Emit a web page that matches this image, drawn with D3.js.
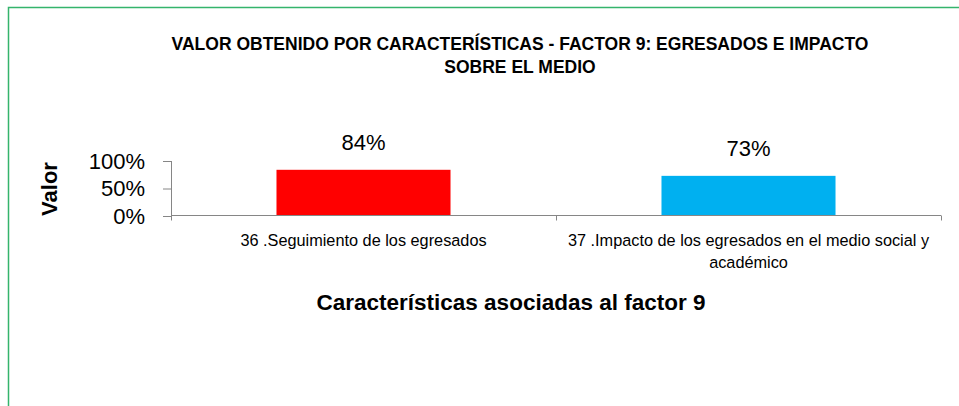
<!DOCTYPE html>
<html>
<head>
<meta charset="utf-8">
<script src="https://cdn.jsdelivr.net/npm/d3@7/dist/d3.min.js"></script>
<style>
  html, body { margin: 0; padding: 0; background: #fff; }
  svg { display: block; font-family: "Liberation Sans", Arial, sans-serif; }
</style>
</head>
<body>
<svg id="chart" width="959" height="406"></svg>
<script>
// Characteristic labels (each entry is a list of wrapped lines)
const categories = [
  ["36 .Seguimiento de los egresados"],
  ["37 .Impacto de los egresados en el medio social y", "académico"]
];
const values = [0.84, 0.73];
const barColors = ["#ff0000", "#00b0f0"];
const yTicks = [0, 0.5, 1];
const titleLines = [
  "VALOR OBTENIDO POR CARACTERÍSTICAS - FACTOR 9: EGRESADOS E IMPACTO",
  "SOBRE EL MEDIO"
];
const xTitle = "Características asociadas al factor 9";
const yTitle = "Valor";

const svg = d3.select("#chart");
const W = 959, H = 406;

// outer frame (open at the right and bottom edges)
svg.append("rect")
  .attr("x", 8.5).attr("y", 7.5)
  .attr("width", W + 10).attr("height", H + 10)
  .attr("fill", "#fff")
  .attr("stroke", "#34b46c")
  .attr("stroke-width", 1.5);

const plot = { left: 171, right: 941, top: 161, bottom: 216 };

const x = d3.scaleBand()
  .domain(categories.map((d, i) => i))
  .range([plot.left, plot.right])
  .paddingInner(0)
  .paddingOuter(0);

const y = d3.scaleLinear()
  .domain([0, 1])
  .range([plot.bottom, plot.top]);

const barW = x.bandwidth() * 0.452;

// title
svg.append("g").selectAll("text")
  .data(titleLines)
  .join("text")
  .attr("x", 520)
  .attr("y", (d, i) => 50 + i * 23)
  .attr("text-anchor", "middle")
  .attr("font-size", 17.5)
  .attr("font-weight", "bold")
  .attr("fill", "#000")
  .text(d => d);

// bars
svg.append("g").selectAll("rect")
  .data(values)
  .join("rect")
  .attr("x", (d, i) => x(i) + (x.bandwidth() - barW) / 2)
  .attr("y", d => y(d))
  .attr("width", barW)
  .attr("height", d => y(0) - y(d))
  .attr("fill", (d, i) => barColors[i]);

// value labels
svg.append("g").selectAll("text")
  .data(values)
  .join("text")
  .attr("x", (d, i) => x(i) + x.bandwidth() / 2)
  .attr("y", d => y(d) - 20)
  .attr("text-anchor", "middle")
  .attr("font-size", 22)
  .attr("fill", "#000")
  .text(d => d3.format(".0%")(d));

// y axis
const yAxis = d3.axisLeft(y)
  .tickValues(yTicks)
  .tickFormat(d3.format(".0%"))
  .tickSize(8)
  .tickPadding(18);
const gy = svg.append("g")
  .attr("transform", `translate(${plot.left},0)`)
  .call(yAxis);
gy.select(".domain").attr("stroke", "#868686").attr("d", `M0.5,${plot.top}V${plot.bottom}`);
gy.selectAll(".tick line").attr("stroke", "#868686");
gy.selectAll(".tick text")
  .attr("font-size", 22)
  .attr("font-family", "Liberation Sans, Arial, sans-serif")
  .attr("fill", "#000");

// x axis
const xAxis = d3.axisBottom(
  d3.scaleLinear().domain([0, categories.length]).range([plot.left, plot.right])
).tickValues(d3.range(categories.length + 1)).tickSize(5).tickFormat("");
const gx = svg.append("g")
  .attr("transform", `translate(0,${plot.bottom - 0.5})`)
  .call(xAxis);
gx.select(".domain").attr("stroke", "#868686").attr("d", `M${plot.left},0H${plot.right}`);
gx.selectAll(".tick line").attr("stroke", "#868686");

// category labels
const catG = svg.append("g");
categories.forEach((lines, i) => {
  catG.append("text")
    .attr("x", x(i) + x.bandwidth() / 2)
    .attr("y", 246)
    .attr("text-anchor", "middle")
    .attr("font-size", 16.3)
    .attr("fill", "#000")
    .selectAll("tspan")
    .data(lines)
    .join("tspan")
    .attr("x", x(i) + x.bandwidth() / 2)
    .attr("dy", (d, j) => j === 0 ? 0 : 22)
    .text(d => d);
});

// axis titles
svg.append("text")
  .attr("x", 511)
  .attr("y", 310)
  .attr("text-anchor", "middle")
  .attr("font-size", 22.5)
  .attr("font-weight", "bold")
  .attr("fill", "#000")
  .text(xTitle);

svg.append("text")
  .attr("transform", "translate(57,189) rotate(-90)")
  .attr("text-anchor", "middle")
  .attr("font-size", 22)
  .attr("font-weight", "bold")
  .attr("fill", "#000")
  .text(yTitle);
</script>
</body>
</html>
